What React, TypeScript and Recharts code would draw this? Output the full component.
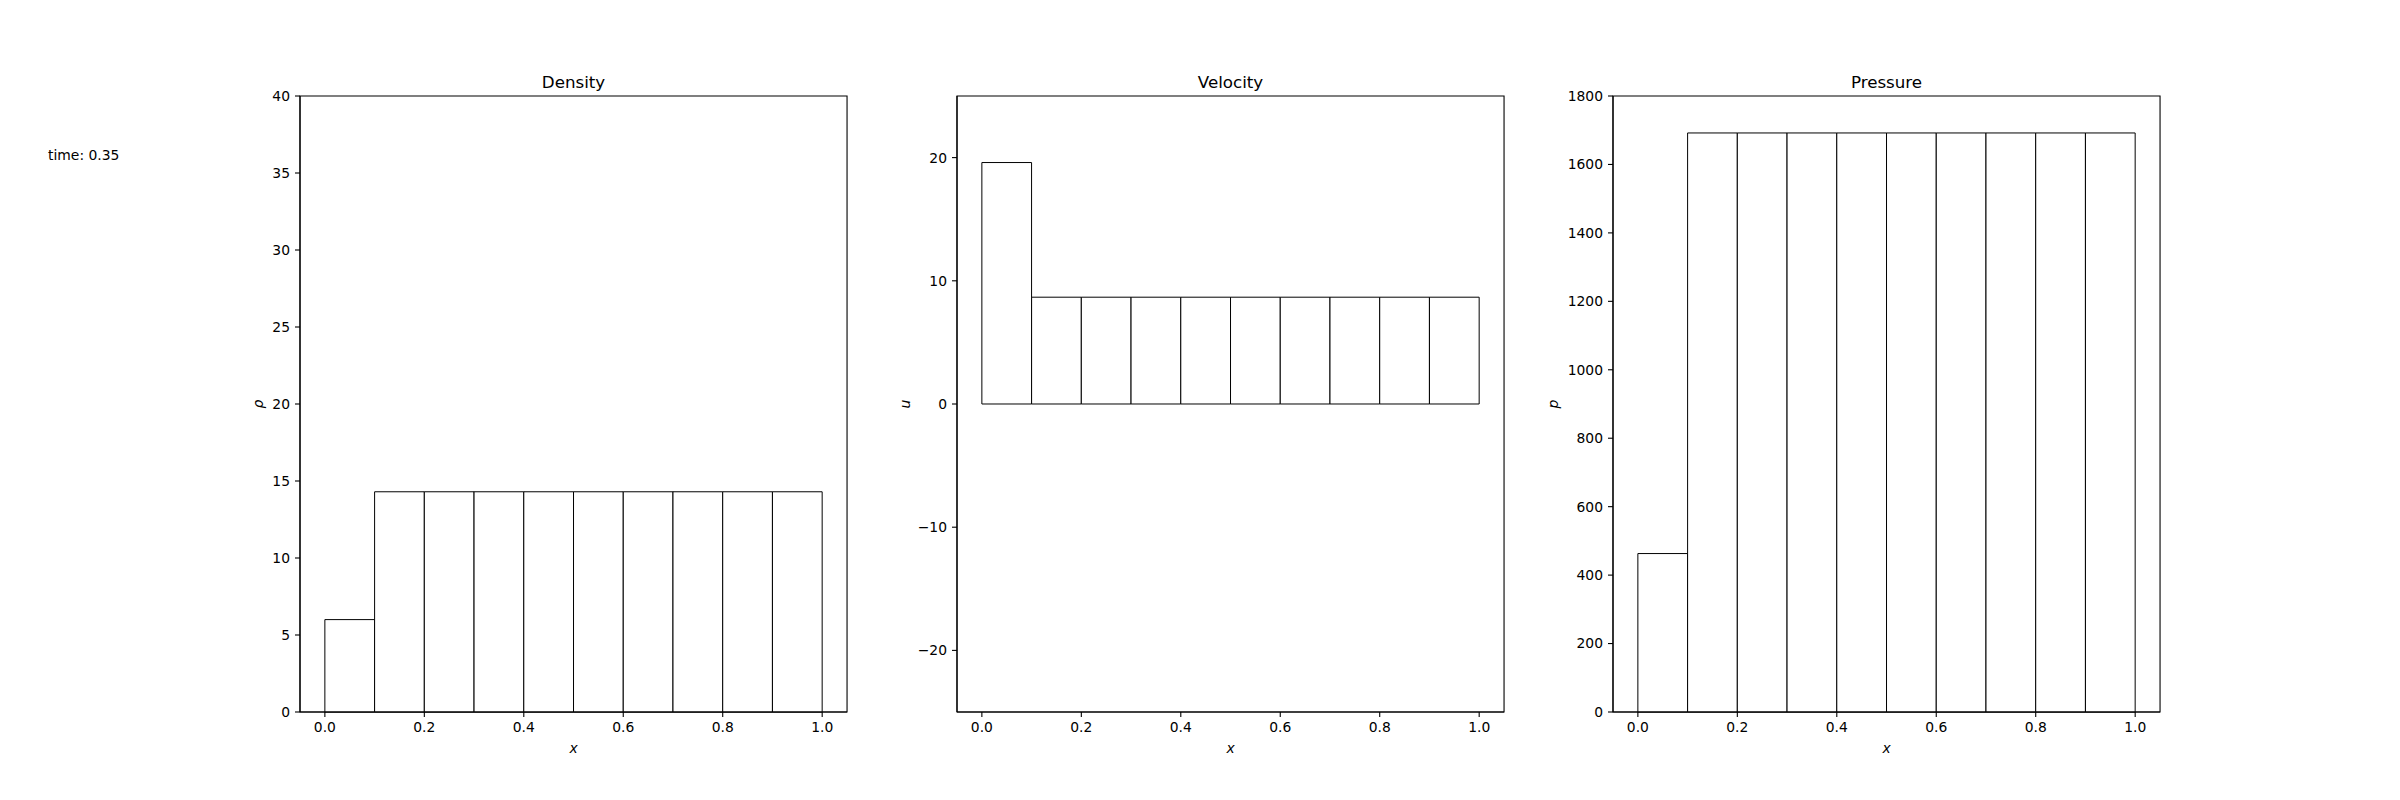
import React from 'react';
import { BarChart, Bar, XAxis, YAxis, ReferenceArea } from 'recharts';

// cell centres (cells are 0.1 wide, spanning 0..1)
const cellX = [0.05, 0.15, 0.25, 0.35, 0.45, 0.55, 0.65, 0.75, 0.85, 0.95];
const density = [6.0, 14.3, 14.3, 14.3, 14.3, 14.3, 14.3, 14.3, 14.3, 14.3];
const velocity = [19.6, 8.67, 8.67, 8.67, 8.67, 8.67, 8.67, 8.67, 8.67, 8.67];
const pressure = [463, 1692, 1692, 1692, 1692, 1692, 1692, 1692, 1692, 1692];

const xTicks = [0, 0.2, 0.4, 0.6, 0.8, 1.0];
const densityTicks = [0, 5, 10, 15, 20, 25, 30, 35, 40];
const velocityTicks = [-20, -10, 0, 10, 20];
const pressureTicks = [0, 200, 400, 600, 800, 1000, 1200, 1400, 1600, 1800];

const FONT = 'DejaVu Sans';
const PLOT_W = 547.06;
const Y_W = 80;
const TOP = 96;
const BOTTOM = 712;
const X_DOMAIN: [number, number] = [-0.05, 1.05];
// slightly under the band so recharts does not shrink the bars to 90%
const BAR_W = (PLOT_W * 0.1) / (X_DOMAIN[1] - X_DOMAIN[0]) - 0.02;

const minus = (v: number) => String(v).replace('-', '\u2212');

interface PanelProps {
  title: string;
  yLabel: string;
  values: number[];
  yDomain: [number, number];
  yTicks: number[];
  left: number;
  labelX: number;
}

const Panel: React.FC<PanelProps> = ({ title, yLabel, values, yDomain, yTicks, left, labelX }) => {
  const data = cellX.map((x, i) => ({ x, v: values[i] }));
  const tickStyle = { fill: '#000', fontSize: 13.9, fontFamily: FONT };
  const line = { stroke: '#000', strokeWidth: 1.1 };

  return (
    <div style={{ position: 'absolute', left: left - Y_W, top: 0 }}>
      <BarChart
        width={Y_W + PLOT_W + 10}
        height={800}
        data={data}
        margin={{ top: TOP, right: 10, bottom: 0, left: 0 }}
      >
        <XAxis
          dataKey="x"
          type="number"
          domain={X_DOMAIN}
          ticks={xTicks}
          tickFormatter={(v: number) => v.toFixed(1)}
          height={800 - BOTTOM}
          tickSize={5}
          tickMargin={5}
          tick={tickStyle}
          tickLine={line}
          axisLine={line}
          label={{
            content: ({ viewBox }: any) => (
              <text
                x={viewBox.x + viewBox.width / 2}
                y={748}
                textAnchor="middle"
                dominantBaseline="central"
                fontFamily={FONT}
                fontSize={13.9}
                fontStyle="italic"
                fill="#000"
              >
                x
              </text>
            ),
          }}
        />
        <YAxis
          type="number"
          domain={yDomain}
          ticks={yTicks}
          width={Y_W}
          tickSize={5}
          tickMargin={5}
          tick={tickStyle}
          tickLine={line}
          axisLine={line}
          tickFormatter={minus}
          label={{
            content: ({ viewBox }: any) => {
              const cx = labelX - (left - Y_W);
              const cy = viewBox.y + viewBox.height / 2;
              return (
                <text
                  x={cx}
                  y={cy}
                  transform={`rotate(-90, ${cx}, ${cy})`}
                  textAnchor="middle"
                  dominantBaseline="central"
                  fontFamily={FONT}
                  fontSize={13.9}
                  fontStyle="italic"
                  fill="#000"
                >
                  {yLabel}
                </text>
              );
            },
          }}
        />
        <Bar
          dataKey="v"
          fill="#fff"
          stroke="#000"
          strokeWidth={1}
          barSize={BAR_W}
          isAnimationActive={false}
        />
        {/* axes frame + title */}
        <ReferenceArea
          x1={X_DOMAIN[0]}
          x2={X_DOMAIN[1]}
          y1={yDomain[0]}
          y2={yDomain[1]}
          fill="none"
          fillOpacity={0}
          stroke="#000"
          strokeWidth={1.1}
          ifOverflow="visible"
          label={{
            content: ({ viewBox }: any) => (
              <text
                x={viewBox.x + viewBox.width / 2}
                y={viewBox.y - 8.3}
                textAnchor="middle"
                fontFamily={FONT}
                fontSize={16.7}
                fill="#000"
              >
                {title}
              </text>
            ),
          }}
        />
      </BarChart>
    </div>
  );
};

export default function App() {
  return (
    <div style={{ position: 'absolute', left: 0, top: 0, width: 2400, height: 800, background: '#fff' }}>
      <svg width={2400} height={800} style={{ position: 'absolute', left: 0, top: 0 }}>
        <text x={48} y={160} fontFamily={FONT} fontSize={13.9} fill="#000">
          time: 0.35
        </text>
      </svg>
      <Panel title="Density" yLabel="ρ" values={density} yDomain={[0, 40]} yTicks={densityTicks} left={300} labelX={258} />
      <Panel title="Velocity" yLabel="u" values={velocity} yDomain={[-25, 25]} yTicks={velocityTicks} left={956.5} labelX={905} />
      <Panel title="Pressure" yLabel="p" values={pressure} yDomain={[0, 1800]} yTicks={pressureTicks} left={1612.9} labelX={1553} />
    </div>
  );
}
